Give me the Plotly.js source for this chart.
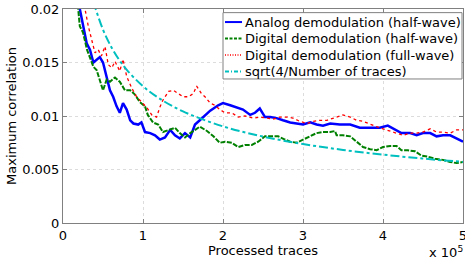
<!DOCTYPE html>
<html><head><meta charset="utf-8">
<script src="https://cdn.plot.ly/plotly-3.0.1.min.js"></script>
<style>html,body{margin:0;padding:0;background:#fff}#c{width:465px;height:262px}</style>
</head><body><div id="c"></div>
<script>
const seriesNames = ["Analog demodulation (half-wave)","Digital demodulation (half-wave)","Digital demodulation (full-wave)","sqrt(4/Number of traces)"];
const xTickVals = [0,100000,200000,300000,400000,500000];
const xTickText = ["0","1","2","3","4","5"];
const yTickVals = [0,0.005,0.01,0.015,0.02];
const yTickText = ["0","0.005","0.01","0.015","0.02"];

const analogX = [19000,21000,29600,33700,38000,46000,50000,54600,58700,62700,67000,71000,75000,79600,84000,88000,94000,98000,102500,109000,115000,121000,127500,134000,140000,146000,152500,159000,165000,171000,177500,184000,194000,200000,209000,217000,225000,234000,240000,246000,252500,259000,267000,275000,284000,292000,300000,309000,317000,325000,334000,346000,359000,371000,384000,396000,406000,415000,423000,434000,442000,450000,459000,467000,475000,484000,492000,500000];
const analogY = [0.0210,0.0200,0.0168,0.0162,0.0150,0.0155,0.0150,0.0137,0.0124,0.0118,0.0109,0.0103,0.0112,0.0106,0.0096,0.0093,0.0092,0.0094,0.0085,0.0084,0.0082,0.0078,0.0080,0.0087,0.0082,0.0079,0.0084,0.0080,0.0092,0.0096,0.0101,0.0105,0.0110,0.0112,0.0110,0.0108,0.0106,0.0101,0.0103,0.0107,0.0099,0.0099,0.0098,0.0096,0.0094,0.0093,0.0092,0.0094,0.0092,0.0091,0.0093,0.0092,0.0092,0.0089,0.0089,0.0089,0.0091,0.0087,0.0084,0.0084,0.0082,0.0084,0.0084,0.0081,0.0082,0.0082,0.0079,0.0076];

const digHalfX = [17000,19000,21000,25000,30000,34000,38000,42000,46000,50000,54600,58700,65000,71000,77500,84000,90000,96000,102500,106000,112500,119000,125000,134000,140000,146000,152500,159000,165000,171000,180000,188000,196000,202500,211000,219000,227500,236000,244000,252500,261000,269000,277500,284000,292000,300000,309000,317000,325000,334000,340000,342000,350000,359000,367000,375000,384000,392000,400000,409000,417000,423000,431000,440000,448000,456000,465000,475000,484000,492000,500000];
const digHalfY = [0.0210,0.0200,0.0184,0.0178,0.0162,0.0153,0.0146,0.0143,0.0134,0.0124,0.0134,0.0132,0.0136,0.0132,0.0124,0.0124,0.0120,0.0113,0.0109,0.0101,0.0094,0.0092,0.0085,0.0087,0.0089,0.0084,0.0080,0.0084,0.0087,0.0090,0.0086,0.0081,0.0075,0.0076,0.0075,0.0071,0.0073,0.0073,0.0076,0.0081,0.0081,0.0081,0.0078,0.0076,0.0075,0.0078,0.0081,0.0084,0.0085,0.0085,0.0086,0.0082,0.0082,0.0081,0.0076,0.0071,0.0069,0.0068,0.0071,0.0072,0.0072,0.0068,0.0068,0.0067,0.0063,0.0062,0.0060,0.0059,0.0057,0.0056,0.0057];

const digFullX = [25000,27500,31600,36000,40000,44000,48000,52500,56600,61000,65000,71000,75000,79600,86000,92000,98000,104600,111000,117000,121000,125000,132000,138000,144000,150000,157000,163000,167000,173000,177500,184000,190000,196000,202500,211000,219000,227500,237500,246000,255000,262500,271000,280000,287500,296000,305000,312500,321000,330000,342000,350000,359000,367000,375000,384000,392000,400000,409000,417000,425000,434000,442000,450000,459000,467000,475000,484000,492000,500000];
const digFullY = [0.0215,0.0200,0.0184,0.0171,0.0159,0.0162,0.0156,0.0165,0.0148,0.0145,0.0151,0.0142,0.0153,0.0137,0.0126,0.0118,0.0113,0.0108,0.0101,0.0099,0.0108,0.0115,0.0123,0.0124,0.0121,0.0118,0.0118,0.0121,0.0128,0.0121,0.0118,0.0112,0.0110,0.0106,0.0103,0.0103,0.0099,0.0100,0.0098,0.0099,0.0098,0.0097,0.0099,0.0099,0.0098,0.0095,0.0093,0.0095,0.0096,0.0096,0.0099,0.0101,0.0099,0.0096,0.0095,0.0092,0.0090,0.0088,0.0086,0.0084,0.0082,0.0084,0.0084,0.0085,0.0088,0.0085,0.0085,0.0084,0.0087,0.0087];

const sqrtX = [38000,40000,50000,60000,70000,80000,100000,120000,150000,200000,250000,300000,350000,400000,450000,500000];
const sqrtY = [0.0207,0.0202,0.01807,0.0165,0.01527,0.01429,0.01278,0.01166,0.01043,0.00903,0.00808,0.00738,0.00683,0.00639,0.00602,0.00571];

const FONT = "DejaVu Sans, Verdana, sans-serif";
const lineStyles = [
  {color: "#0000ff", width: 2.5},
  {color: "#008000", width: 2, dash: "5px,1.5px"},
  {color: "#ff0000", width: 1.3, dash: "dot"},
  {color: "#00bfbf", width: 2, dash: "dashdot", shape: "spline"}
];
const legendDash = [null, "3px,1.5px", "1px,1.5px", "4px,2px,1px,2px"];
const xs = [analogX, digHalfX, digFullX, sqrtX];
const ys = [analogY, digHalfY, digFullY, sqrtY];
const traces = xs.map((x, i) => ({x: x, y: ys[i], name: seriesNames[i], mode: "lines", line: lineStyles[i], showlegend: false}));

// legend box (drawn as shapes + text annotations)
const shapes = [{type: "rect", xref: "paper", yref: "paper", x0: 0.4, x1: 0.9975, y0: 0.673, y1: 0.983,
  fillcolor: "#fff", line: {color: "#808080", width: 1}, layer: "above"}];
const annotations = [];
const rowY = [0.939, 0.862, 0.785, 0.708];
seriesNames.forEach((n, i) => {
  const ls = {color: lineStyles[i].color, width: Math.min(lineStyles[i].width, 2)};
  if (legendDash[i]) ls.dash = legendDash[i];
  shapes.push({type: "line", xref: "paper", yref: "paper", x0: 0.405, x1: 0.4475, y0: rowY[i], y1: rowY[i], line: ls, layer: "above"});
  annotations.push({xref: "paper", yref: "paper", x: 0.449, y: rowY[i], xanchor: "left", yanchor: "middle",
    text: n, showarrow: false, font: {family: FONT, size: 13, color: "#000"}});
});
annotations.push({xref: "paper", yref: "paper", x: 1.004, y: -0.135, xanchor: "right", yanchor: "middle",
  text: "x 10<sup>5</sup>", showarrow: false, font: {family: FONT, size: 13}});

const axisCommon = {
  showline: true, linecolor: "#808080", linewidth: 1, mirror: "ticks",
  ticks: "inside", ticklen: 4, tickcolor: "#808080",
  showgrid: true, gridcolor: "#dcdcdc", griddash: "dot", gridwidth: 1,
  zeroline: false, tickfont: {family: FONT, size: 13, color: "#000"}, ticklabeloverflow: "allow"
};
const layout = {
  width: 465, height: 262,
  margin: {l: 63, r: 2, t: 9, b: 39},
  paper_bgcolor: "#fff", plot_bgcolor: "#fff",
  font: {family: FONT, size: 13, color: "#000"},
  xaxis: Object.assign({}, axisCommon, {range: [0, 500000], tickvals: xTickVals, ticktext: xTickText,
    title: {text: "Processed traces", standoff: 0, font: {family: FONT, size: 13}}}),
  yaxis: Object.assign({}, axisCommon, {range: [0, 0.02], tickvals: yTickVals, ticktext: yTickText,
    title: {text: "Maximum correlation", standoff: 2, font: {family: FONT, size: 13}}}),
  showlegend: false,
  shapes: shapes,
  annotations: annotations
};
Plotly.newPlot("c", traces, layout, {displayModeBar: false, staticPlot: true});
</script></body></html>
